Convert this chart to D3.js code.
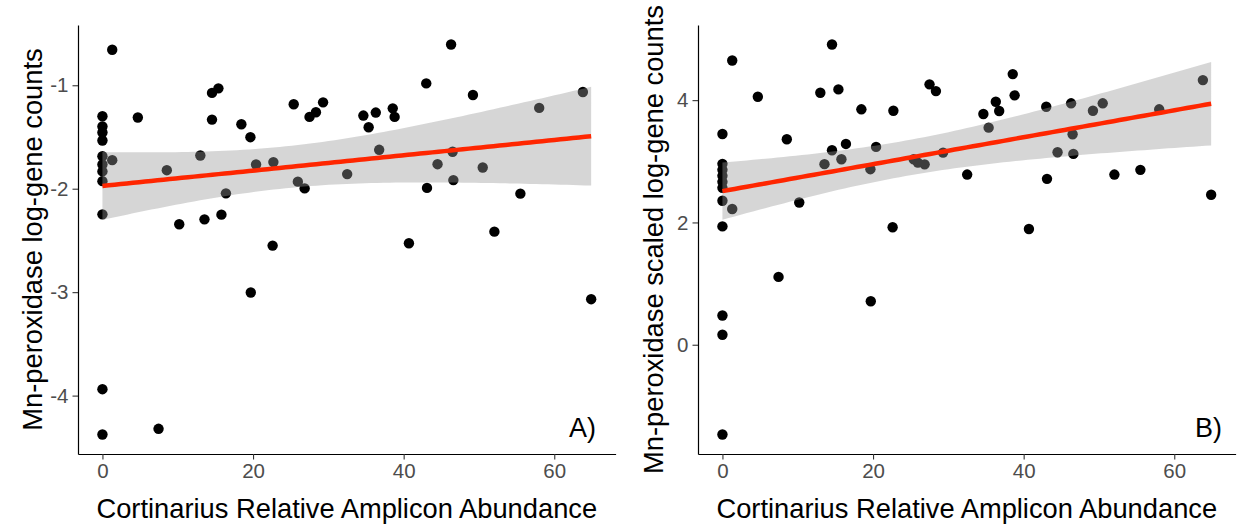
<!DOCTYPE html>
<html>
<head>
<meta charset="utf-8">
<script src="https://cdn.jsdelivr.net/npm/d3@7"></script>
<style>
  body { margin: 0; background: #fff; }
  svg { display: block; }
  text { font-family: "Liberation Sans", Arial, Helvetica, sans-serif; }
</style>
</head>
<body>
<svg id="chart" width="1238" height="525"></svg>
<script>
// Cortinarius relative amplicon abundance per sample (shared by both panels)
const abundance = [
  0, 0, 0, 0, 0, 0, 0, 0, 0, 0, 0,
  1.3, 1.3, 4.7, 7.45, 8.55, 10.2, 13.0, 13.55, 14.55, 14.55,
  15.4, 15.8, 16.4, 18.45, 19.65, 19.7, 20.4, 22.7, 22.6, 25.4,
  25.95, 26.85, 27.5, 28.35, 29.3, 32.5, 34.65, 35.35, 36.3, 36.75,
  38.55, 38.8, 40.7, 43.0, 43.1, 44.5, 46.3, 46.5, 46.6, 49.2,
  50.5, 52.05, 55.5, 58.0, 63.8, 64.9
];

// Panel A: Mn-peroxidase log-gene counts
const logGeneCounts = [
  -1.300, -1.399, -1.457, -1.534, -1.686, -1.766, -1.833, -1.927, -2.248, -3.938, -4.376,
  -0.657, -1.724, -1.312, -4.321, -1.821, -2.344, -1.679, -2.296, -1.074, -1.332,
  -1.030, -2.251, -2.045, -1.377, -1.502, -3.003, -1.766, -1.743, -2.550, -1.184,
  -1.932, -1.997, -1.306, -1.261, -1.165, -1.859, -1.293, -1.406, -1.264, -1.624,
  -1.223, -1.306, -2.527, -0.982, -1.992, -1.763, -0.606, -1.643, -1.917, -1.094,
  -1.795, -2.415, -2.048, -1.219, -1.065, -3.068
];

// Panel B: Mn-peroxidase scaled log-gene counts
const scaledLogGeneCounts = [
  3.447, 2.958, 2.860, 2.762, 2.664, 2.566, 2.354, 1.935, 0.478, 0.163, -1.468,
  4.649, 2.219, 4.055, 1.109, 3.361, 2.326, 4.121, 2.953, 4.910, 3.181,
  4.176, 3.034, 3.284, 3.850, 2.871, 0.711, 3.235, 3.827, 1.922, 3.034,
  2.979, 2.950, 4.258, 4.148, 3.142, 2.783, 3.773, 3.550, 3.974, 3.822,
  4.426, 4.078, 1.892, 3.892, 2.713, 3.148, 3.948, 3.442, 3.121, 3.827,
  3.948, 2.783, 2.860, 3.850, 4.328, 2.452
];

const xTicks = [0, 20, 40, 60];
const yTicksA = [-4, -3, -2, -1];
const yTicksB = [0, 2, 4];

const xTitle = "Cortinarius Relative Amplicon Abundance";

const svg = d3.select("#chart");

// 5% padding on each side of the data range
function padded(ext) {
  const d = (ext[1] - ext[0]) * 0.05;
  return [ext[0] - d, ext[1] + d];
}

// Two-sided 95% Student t quantile (Cornish-Fisher expansion)
function tQuantile975(df) {
  const z = 1.959964;
  const z3 = z * z * z, z5 = z3 * z * z, z7 = z5 * z * z;
  return z + (z3 + z) / (4 * df)
    + (5 * z5 + 16 * z3 + 3 * z) / (96 * df * df)
    + (3 * z7 + 19 * z5 + 17 * z3 - 15 * z) / (384 * df * df * df);
}

// Ordinary least squares fit with a 95% confidence band for the mean
function linearFit(xs, ys) {
  const n = xs.length;
  const mx = d3.mean(xs), my = d3.mean(ys);
  let sxx = 0, sxy = 0;
  for (let i = 0; i < n; i++) {
    sxx += (xs[i] - mx) ** 2;
    sxy += (xs[i] - mx) * (ys[i] - my);
  }
  const slope = sxy / sxx;
  const intercept = my - slope * mx;
  let sse = 0;
  for (let i = 0; i < n; i++) sse += (ys[i] - (intercept + slope * xs[i])) ** 2;
  const s = Math.sqrt(sse / (n - 2));
  const t = tQuantile975(n - 2);
  return x => {
    const fit = intercept + slope * x;
    const se = s * Math.sqrt(1 / n + (x - mx) ** 2 / sxx);
    return { x, fit, lo: fit - t * se, hi: fit + t * se };
  };
}

function drawPanel(opts) {
  const { left, right, top, bottom, ys, yTicks, yTitle, yTitleX, tag } = opts;
  const g = svg.append("g");

  const x = d3.scaleLinear().domain(padded(d3.extent(abundance))).range([left, right]);
  const y = d3.scaleLinear().domain(padded(d3.extent(ys))).range([bottom, top]);

  const rows = abundance.map((a, i) => ({ a, v: ys[i] }));

  // points
  g.append("g").selectAll("circle").data(rows).join("circle")
    .attr("cx", d => x(d.a))
    .attr("cy", d => y(d.v))
    .attr("r", 5.2)
    .attr("fill", "#000");

  // regression line with confidence ribbon
  const predict = linearFit(abundance, ys);
  const [x0, x1] = d3.extent(abundance);
  const band = d3.range(81).map(i => predict(x0 + (x1 - x0) * i / 80));

  g.append("path")
    .datum(band)
    .attr("fill", "#999999")
    .attr("fill-opacity", 0.4)
    .attr("d", d3.area().x(d => x(d.x)).y0(d => y(d.lo)).y1(d => y(d.hi)));

  g.append("path")
    .datum(band)
    .attr("fill", "none")
    .attr("stroke", "#ff2600")
    .attr("stroke-width", 4.5)
    .attr("d", d3.line().x(d => x(d.x)).y(d => y(d.fit)));

  // axes
  const xAxis = g.append("g")
    .attr("transform", `translate(0,${bottom})`)
    .call(d3.axisBottom(x).tickValues(xTicks).tickSize(5.5).tickSizeOuter(0).tickPadding(4));
  const yAxis = g.append("g")
    .attr("transform", `translate(${left},0)`)
    .call(d3.axisLeft(y).tickValues(yTicks).tickSize(5.5).tickSizeOuter(0).tickPadding(4)
      .tickFormat(d => String(d).replace("\u2212", "-")));

  [xAxis, yAxis].forEach(ax => {
    ax.select(".domain").attr("stroke", "#000").attr("stroke-width", 1.2);
    ax.selectAll(".tick line").attr("stroke", "#333").attr("stroke-width", 1.1);
    ax.selectAll(".tick text")
      .attr("fill", "#4d4d4d")
      .style("font-size", "20.5px")
      .style("font-family", "'Liberation Sans', Arial, sans-serif");
  });

  // axis titles
  g.append("text")
    .attr("x", (left + right) / 2)
    .attr("y", 518)
    .attr("text-anchor", "middle")
    .style("font-size", "27.3px")
    .attr("fill", "#000")
    .text(xTitle);

  g.append("text")
    .attr("transform", `translate(${yTitleX},${(top + bottom) / 2}) rotate(-90)`)
    .attr("text-anchor", "middle")
    .style("font-size", "27.3px")
    .attr("fill", "#000")
    .text(yTitle);

  // panel tag
  g.append("text")
    .attr("x", tag.x)
    .attr("y", 437)
    .attr("text-anchor", "end")
    .style("font-size", "27px")
    .attr("fill", "#000")
    .text(tag.label);
}

drawPanel({
  left: 78, right: 615.6, top: 25, bottom: 454,
  ys: logGeneCounts, yTicks: yTicksA,
  yTitle: "Mn-peroxidase log-gene counts", yTitleX: 42,
  tag: { label: "A)", x: 596 }
});

drawPanel({
  left: 698, right: 1235.6, top: 25, bottom: 454,
  ys: scaledLogGeneCounts, yTicks: yTicksB,
  yTitle: "Mn-peroxidase scaled log-gene counts", yTitleX: 663,
  tag: { label: "B)", x: 1222 }
});
</script>
</body>
</html>
